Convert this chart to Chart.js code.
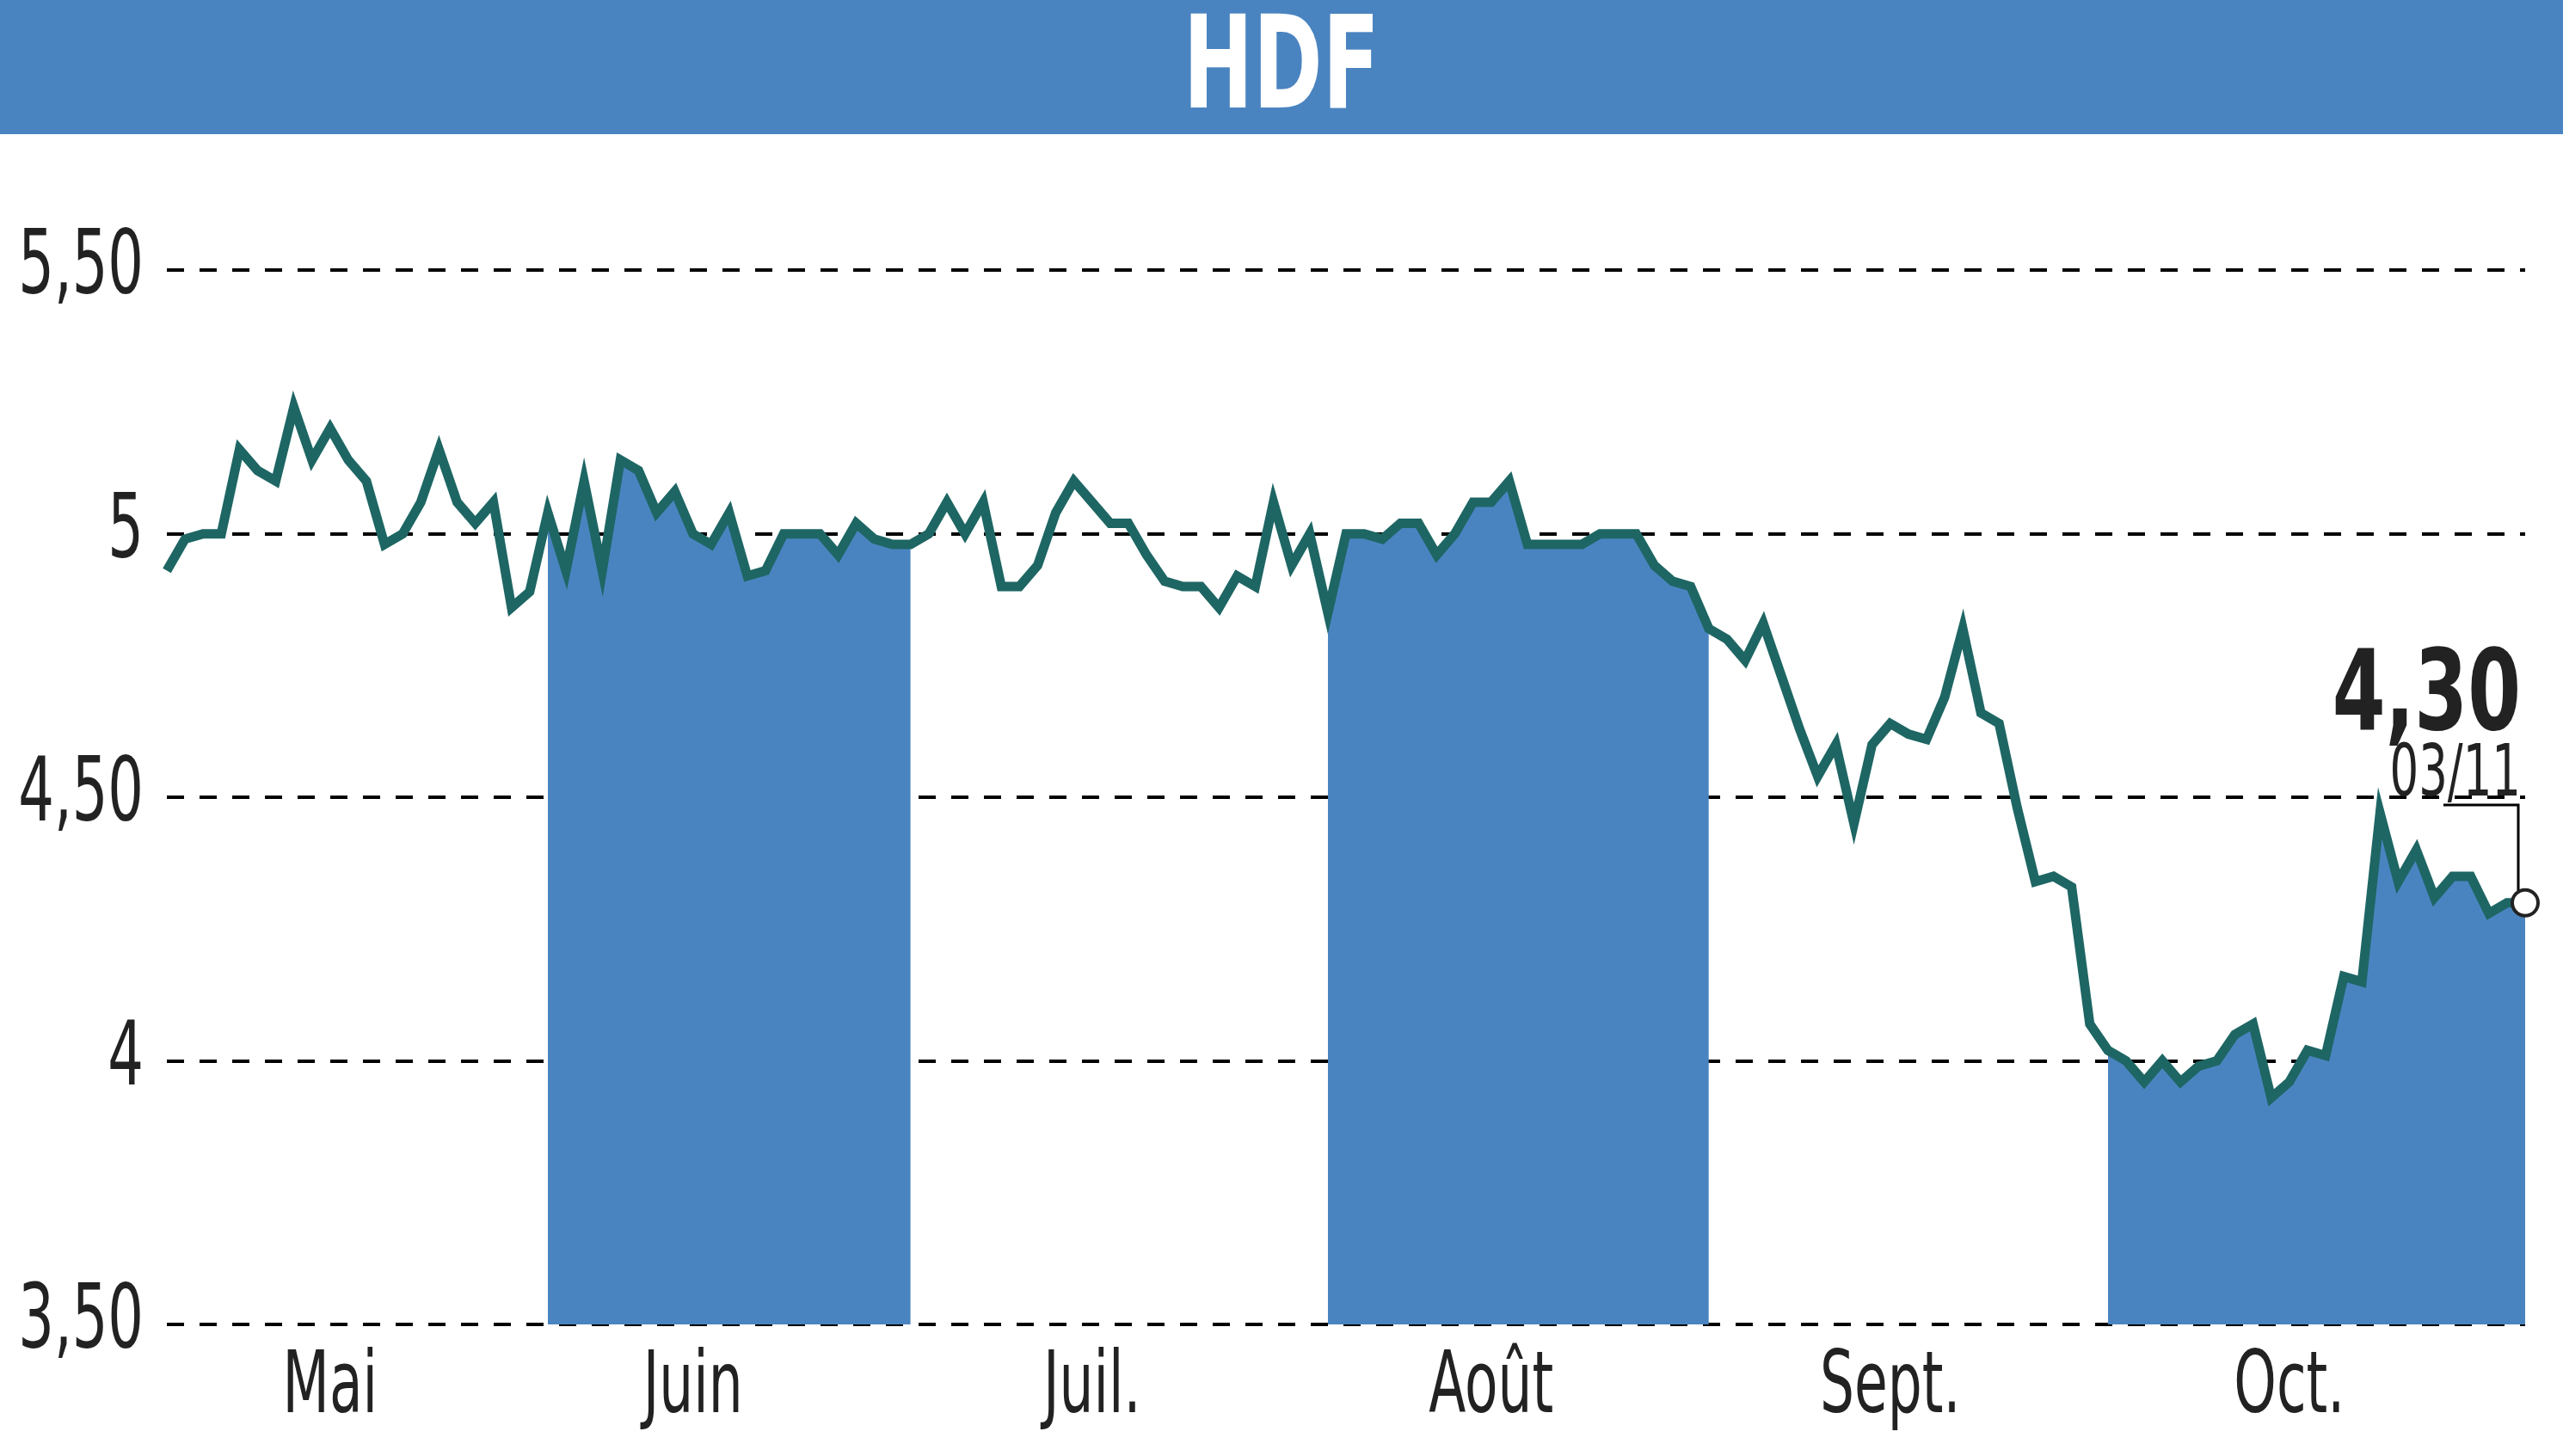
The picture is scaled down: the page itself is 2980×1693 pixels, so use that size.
<!DOCTYPE html>
<html><head><meta charset="utf-8">
<script src="https://cdn.jsdelivr.net/npm/chart.js@4/dist/chart.umd.min.js"></script>
<style>html,body{margin:0;padding:0;background:#fff}canvas{display:block}</style>
</head><body>
<canvas id="c" width="2980" height="1693"></canvas>
<script>
const title = "HDF";
const prices = [4.93,4.99,5.0,5.0,5.16,5.12,5.10,5.24,5.14,5.20,5.14,5.10,4.98,5.0,5.06,5.16,5.06,5.02,5.06,4.86,4.89,5.04,4.93,5.10,4.93,5.14,5.12,5.04,5.08,5.0,4.98,5.04,4.92,4.93,5.0,5.0,5.0,4.96,5.02,4.99,4.98,4.98,5.0,5.06,5.0,5.06,4.9,4.9,4.94,5.04,5.10,5.06,5.02,5.02,4.96,4.91,4.9,4.9,4.86,4.92,4.9,5.06,4.94,5.0,4.85,5.0,5.0,4.99,5.02,5.02,4.96,5.0,5.06,5.06,5.10,4.98,4.98,4.98,4.98,5.0,5.0,5.0,4.94,4.91,4.9,4.82,4.80,4.76,4.83,4.73,4.63,4.54,4.60,4.45,4.60,4.64,4.62,4.61,4.69,4.82,4.66,4.64,4.48,4.34,4.35,4.33,4.07,4.02,4.0,3.96,4.0,3.96,3.99,4.0,4.05,4.07,3.93,3.96,4.02,4.01,4.16,4.15,4.47,4.34,4.40,4.31,4.35,4.35,4.28,4.30,4.30];
const monthNames = ["Mai","Juin","Juil.","Août","Sept.","Oct."];
const monthLabelIdx = [9,29,51,73,95,117];
const bandRanges = [[21,41],[64,85],[107,130]];
const yTicks = [3.5,4,4.5,5,5.5];
const yTickLabels = ["3,50","4","4,50","5","5,50"];
const lastLabel = "4,30";
const lastDate = "03/11";

const labels = prices.map((_, i) => "");
const bandData = prices.map((v, i) => bandRanges.some(r => i >= r[0] && i <= r[1]) ? v : null);
const FONT = '"DejaVu Sans Condensed","Liberation Sans Narrow","Liberation Sans",sans-serif';

function narrowText(c, txt, x, y, font, align, sx) {
  c.save();
  c.font = font; c.textAlign = align;
  c.translate(x, y); c.scale(sx, 1);
  c.fillText(txt, 0, 0);
  c.restore();
}

const deco = {
  id: 'deco',
  beforeDraw(ch) {
    const c = ch.ctx;
    c.save();
    c.fillStyle = '#4a84c0';
    c.fillRect(0, 0, ch.width, 156);
    c.fillStyle = '#fff'; c.textBaseline = 'middle';
    narrowText(c, title, ch.width / 2, 86, 'bold 150px ' + FONT, 'center', 0.72);
    c.restore();
  },
  afterDraw(ch) {
    const c = ch.ctx, xs = ch.scales.x, ys = ch.scales.y;
    c.save();
    c.fillStyle = '#222'; c.textBaseline = 'middle';
    yTicks.forEach((v, k) => narrowText(c, yTickLabels[k], 167, ys.getPixelForValue(v), '104px ' + FONT, 'right', 0.7));
    monthLabelIdx.forEach((idx, k) => narrowText(c, monthNames[k], xs.getPixelForValue(idx), 1616, '100px ' + FONT, 'center', 0.7));
    c.restore();
  },
  afterDatasetsDraw(ch) {
    const c = ch.ctx, xs = ch.scales.x, ys = ch.scales.y;
    const i = prices.length - 1;
    const px = xs.getPixelForValue(i), py = ys.getPixelForValue(prices[i]);
    c.save();
    c.strokeStyle = '#000'; c.lineWidth = 3;
    c.beginPath(); c.moveTo(px - 95, 936); c.lineTo(px - 8, 936); c.lineTo(px - 8, py - 14); c.stroke();
    c.beginPath(); c.arc(px, py, 15, 0, Math.PI * 2);
    c.fillStyle = '#fff'; c.fill(); c.lineWidth = 4; c.strokeStyle = '#222'; c.stroke();
    c.fillStyle = '#222'; c.textBaseline = 'alphabetic';
    narrowText(c, lastLabel, px - 5, 848, 'bold 130px ' + FONT, 'right', 0.76);
    narrowText(c, lastDate, px - 5, 925, '84px ' + FONT, 'right', 0.7);
    c.restore();
  }
};

new Chart(document.getElementById('c'), {
  type: 'line',
  data: { labels, datasets: [
    { data: prices, borderColor: '#1e6664', borderWidth: 11, pointRadius: 0, tension: 0, fill: false, order: 0 },
    { data: bandData, borderWidth: 0, borderColor: 'rgba(0,0,0,0)', backgroundColor: '#4a84c0', pointRadius: 0, fill: 'start', spanGaps: false, order: 1 }
  ]},
  options: {
    responsive: false, animation: false, devicePixelRatio: 1,
    layout: { padding: { top: 161, right: 44, left: 0, bottom: 0 } },
    plugins: { legend: { display: false }, tooltip: { enabled: false } },
    scales: {
      x: {
        offset: false,
        grid: { display: false, drawTicks: false },
        border: { display: false },
        ticks: { display: false },
        afterFit: s => { s.height = 153; }
      },
      y: {
        min: 3.5, max: 5.75,
        afterBuildTicks: s => { s.ticks = yTicks.map(v => ({ value: v })); },
        grid: { color: '#000', lineWidth: 4, drawTicks: false },
        border: { display: false, dash: [20, 18] },
        ticks: { display: false },
        afterFit: s => { s.width = 194; }
      }
    }
  },
  plugins: [deco]
});
</script>
</body></html>
